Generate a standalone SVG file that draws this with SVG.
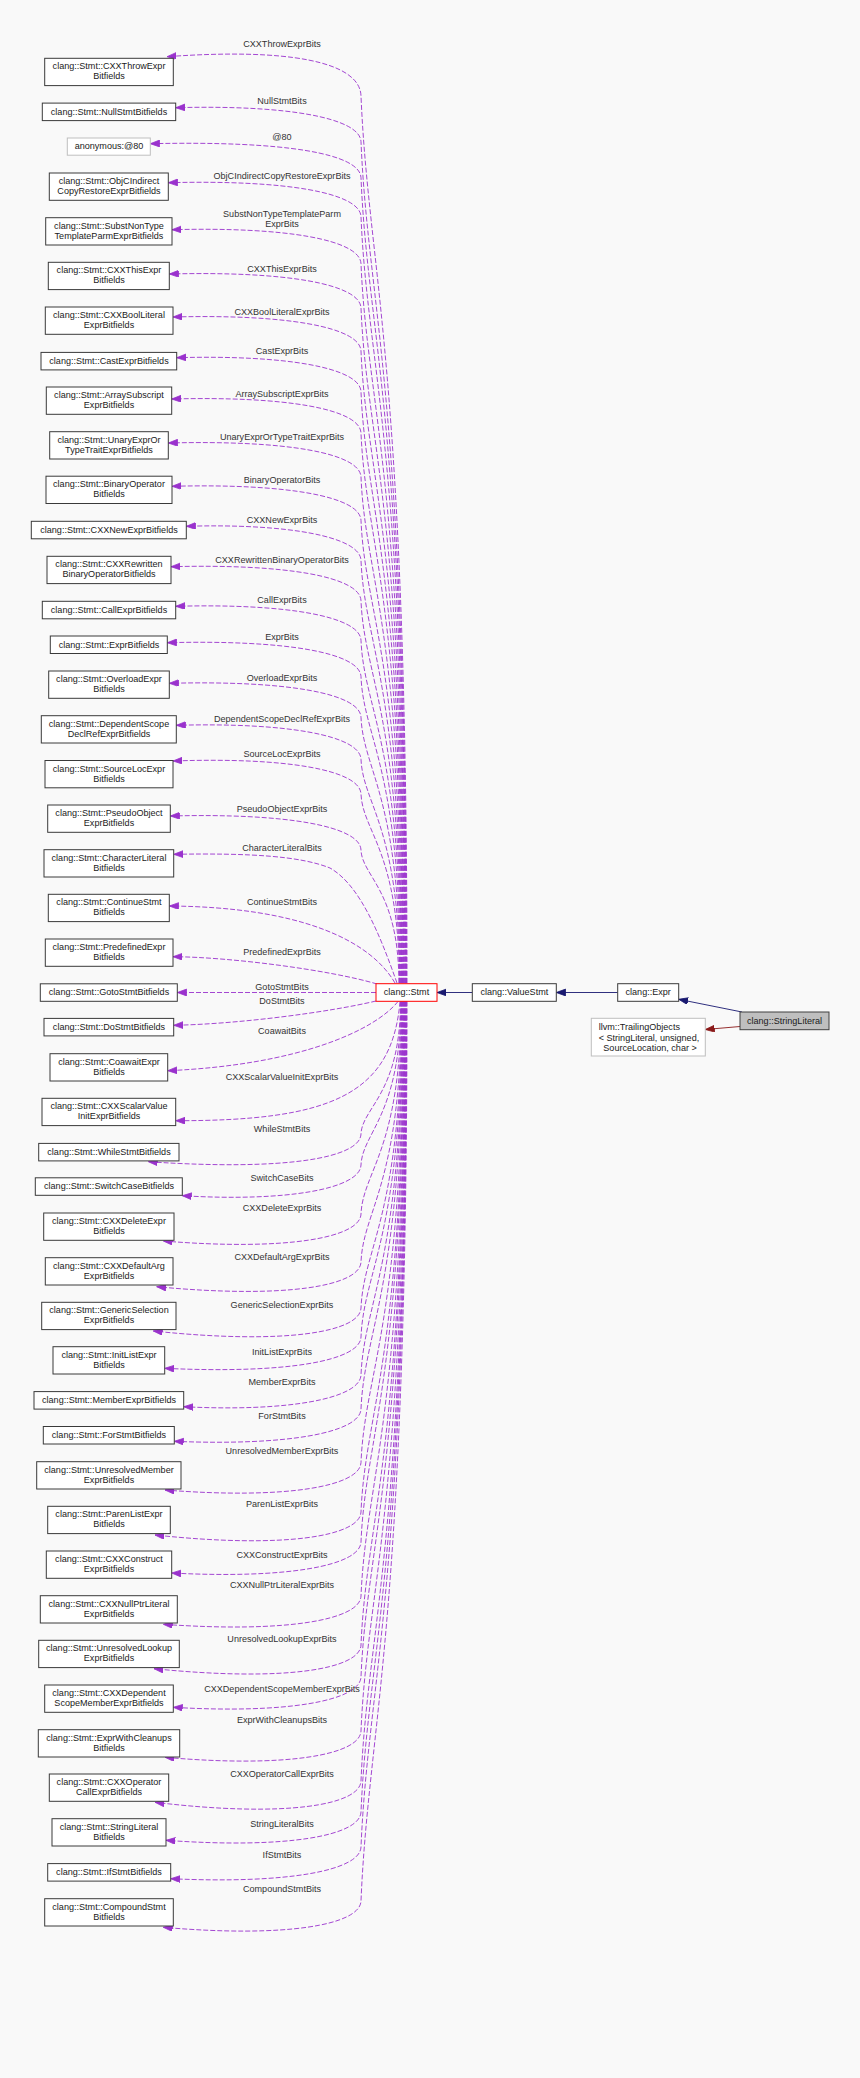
<svg xmlns="http://www.w3.org/2000/svg" width="860" height="2078" viewBox="0 0 860 2078">
<style>
text{font-family:"Liberation Sans",Arial,Helvetica,sans-serif;font-size:9.07px;fill:#1a1a1a}
.n rect{fill:#ffffff;stroke:#3a3a3a;stroke-width:1}
.n text{text-anchor:middle}
.gr rect{stroke:#bfbfbf}
.e path{fill:none;stroke:#9a32cd;stroke-width:0.9;stroke-dasharray:5,2;marker-end:url(#mp)}
.e text{text-anchor:middle;fill:#333333}
.inh{fill:none;stroke:#191970;stroke-width:0.9;marker-end:url(#mn)}
</style>
<defs>
<marker id="mp" markerUnits="userSpaceOnUse" markerWidth="12" markerHeight="9" refX="9.3" refY="3.4" orient="auto"><path d="M0,0 L9.3,3.4 L0,6.8 z" fill="#9a32cd" stroke="#9a32cd" stroke-width="0.8"/></marker>
<marker id="mn" markerUnits="userSpaceOnUse" markerWidth="12" markerHeight="9" refX="9.3" refY="3.4" orient="auto"><path d="M0,0 L9.3,3.4 L0,6.8 z" fill="#191970" stroke="#191970" stroke-width="0.8"/></marker>
<marker id="mr" markerUnits="userSpaceOnUse" markerWidth="12" markerHeight="9" refX="9.3" refY="3.4" orient="auto"><path d="M0,0 L9.3,3.4 L0,6.8 z" fill="#8b1a1a" stroke="#8b1a1a" stroke-width="0.8"/></marker>
</defs>
<rect x="0" y="0" width="860" height="2078" fill="#f9f9f9"/>

<g id="connectors">
<g class="e">
<path d="M407,983 C407,362 368.5,273 361,96 C360,61 286,48 167,56.7"/><text x="282" y="47.2">CXXThrowExprBits</text>
<path d="M406.5,983 C406.5,394 368.2,310 361,141.7 C360,117.7 286,104.7 175.7,107.7"/><text x="282" y="103.9">NullStmtBits</text>
<path d="M406.1,983 C406.1,419.3 367.8,338.8 361,177.7 C360,153.7 286,140.7 150.3,143.7"/><text x="282" y="139.9">@80</text>
<path d="M405.6,983 C405.6,446.6 367.5,370 361,216.7 C360,192.7 286,179.7 168.3,182.7"/><text x="282" y="178.9">ObjCIndirectCopyRestoreExprBits</text>
<path d="M405.2,983 C405.2,479.5 367.1,407.6 361,263.7 C360,239.7 286,226.7 172,229.7"/><text x="282" y="216.9">SubstNonTypeTemplateParm</text><text x="282" y="227.2">ExprBits</text>
<path d="M404.8,983 C404.8,510.5 366.7,443 361,308 C360,284 286,271 169.3,274"/><text x="282" y="271.5">CXXThisExprBits</text>
<path d="M404.3,983 C404.3,540.6 366.4,477.4 361,351 C360,327 286,314 173,317"/><text x="282" y="314.5">CXXBoolLiteralExprBits</text>
<path d="M403.8,983 C403.8,569.1 366,510 361,391.7 C360,367.7 286,354.7 176.7,357.7"/><text x="282" y="353.9">CastExprBits</text>
<path d="M403.4,983 C403.4,598 365.7,543 361,433 C360,409 286,396 171.7,399"/><text x="282" y="396.5">ArraySubscriptExprBits</text>
<path d="M403,983 C403,628.8 365.3,578.2 361,477 C360,453 286,440 168.3,443"/><text x="282" y="440.2">UnaryExprOrTypeTraitExprBits</text>
<path d="M402.5,983 C402.5,659.1 364.9,612.8 361,520.3 C360,496.3 286,483.3 172,486.3"/><text x="282" y="482.5">BinaryOperatorBits</text>
<path d="M402,983 C402,687.1 364.6,644.8 361,560.3 C360,536.3 286,523.3 186.3,526.3"/><text x="282" y="522.9">CXXNewExprBits</text>
<path d="M401.6,983 C401.6,715.4 364.2,677.2 361,600.7 C360,576.7 286,563.7 171,566.7"/><text x="282" y="562.9">CXXRewrittenBinaryOperatorBits</text>
<path d="M401.2,983 C401.2,743.1 363.9,708.8 361,640.3 C360,616.3 286,603.3 175.7,606.3"/><text x="282" y="602.9">CallExprBits</text>
<path d="M400.7,983 C400.7,768.6 363.6,738 361,676.7 C360,652.7 286,639.7 167.3,642.7"/><text x="282" y="639.5">ExprBits</text>
<path d="M400.2,983 C400.2,797 363.3,770.4 361,717.3 C360,693.3 286,680.3 169.3,683.3"/><text x="282" y="680.9">OverloadExprBits</text>
<path d="M399.8,983 C399.8,826.4 362.9,804 361,759.3 C360,735.3 286,722.3 176.3,725.3"/><text x="282" y="722.2">DependentScopeDeclRefExprBits</text>
<path d="M399.4,983 C399.4,850.7 362.6,831.8 361,794 C360,770 286,757 173,761"/><text x="282" y="756.9">SourceLocExprBits</text>
<path d="M398.9,983 C398.9,889.9 362.1,876.6 361,850 C360,826 286,813 170.3,816"/><text x="282" y="812.2">PseudoObjectExprBits</text>
<path d="M397,983 C380,935 360,885 330,868 C300,856 250,853 173.7,854.3"/><text x="282" y="850.9">CharacterLiteralBits</text>
<path d="M395,983 C370,940 300,907 169.3,906"/><text x="282" y="904.9">ContinueStmtBits</text>
<path d="M377,984 C330,970 230,957 173,956.7"/><text x="282" y="954.9">PredefinedExprBits</text>
<path d="M376,992.5 L177.3,992.5"/><text x="282" y="989.9">GotoStmtBits</text>
<path d="M376,1001 C330,1012 240,1024 173.7,1025.3"/><text x="282" y="1003.5">DoStmtBits</text>
<path d="M398,1001.5 C375,1030 300,1065 167.7,1070.7"/><text x="282" y="1034.2">CoawaitBits</text>
<path d="M400,1001.5 C392,1095 330,1121 175.7,1120.7"/><text x="282" y="1079.9">CXXScalarValueInitExprBits</text>
<path d="M400.5,1001.3 C400.5,1094.2 362.1,1107.5 361,1134 C360,1158 286,1171 148.3,1161.7"/><text x="282" y="1131.9">WhileStmtBits</text>
<path d="M400.9,1001.3 C400.9,1115.9 362.4,1132.3 361,1165 C360,1189 286,1202 182.3,1195.7"/><text x="282" y="1180.9">SwitchCaseBits</text>
<path d="M401.2,1001.3 C401.2,1150.2 362.8,1171.5 361,1214 C360,1238 286,1251 163.3,1241"/><text x="282" y="1210.5">CXXDeleteExprBits</text>
<path d="M401.6,1001.3 C401.6,1183.8 363.2,1209.9 361,1262 C360,1286 286,1299 156.7,1286.7"/><text x="282" y="1259.9">CXXDefaultArgExprBits</text>
<path d="M401.9,1001.3 C401.9,1216 363.6,1246.7 361,1308 C360,1332 286,1345 153.3,1331"/><text x="282" y="1307.5">GenericSelectionExprBits</text>
<path d="M402.3,1001.3 C402.3,1236.3 363.9,1269.9 361,1337 C360,1361 286,1374 164.7,1368.3"/><text x="282" y="1355.2">InitListExprBits</text>
<path d="M402.7,1001.3 C402.7,1262.9 364.2,1300.3 361,1375 C360,1399 286,1412 183.7,1406.7"/><text x="282" y="1385.2">MemberExprBits</text>
<path d="M403,1001.3 C403,1286.7 364.5,1327.5 361,1409 C360,1433 286,1446 174.3,1441.3"/><text x="282" y="1418.5">ForStmtBits</text>
<path d="M403.4,1001.3 C403.4,1324.1 364.9,1370.3 361,1462.5 C360,1486.5 286,1499.5 165,1490"/><text x="282" y="1453.9">UnresolvedMemberExprBits</text>
<path d="M403.7,1001.3 C403.7,1358.8 365.3,1409.9 361,1512 C360,1536 286,1549 155,1535"/><text x="282" y="1506.9">ParenListExprBits</text>
<path d="M404.1,1001.3 C404.1,1379.8 365.6,1433.9 361,1542 C360,1566 286,1579 171.7,1573"/><text x="282" y="1557.5">CXXConstructExprBits</text>
<path d="M404.5,1001.3 C404.5,1417.6 366.1,1477.1 361,1596 C360,1620 286,1633 163.3,1624.3"/><text x="282" y="1588.2">CXXNullPtrLiteralExprBits</text>
<path d="M404.8,1001.3 C404.8,1451.9 366.5,1516.3 361,1645 C360,1669 286,1682 154,1668.7"/><text x="282" y="1642.2">UnresolvedLookupExprBits</text>
<path d="M405.2,1001.3 C405.2,1474.3 366.7,1541.9 361,1677 C360,1701 286,1714 173.3,1707.3"/><text x="282" y="1692.2">CXXDependentScopeMemberExprBits</text>
<path d="M405.5,1001.3 C405.5,1512.1 367.2,1585.1 361,1731 C360,1755 286,1768 165,1757.3"/><text x="282" y="1722.9">ExprWithCleanupsBits</text>
<path d="M405.9,1001.3 C405.9,1547.1 367.6,1625.1 361,1781 C360,1805 286,1818 155,1802.3"/><text x="282" y="1776.5">CXXOperatorCallExprBits</text>
<path d="M406.3,1001.3 C406.3,1568.8 367.9,1649.9 361,1812 C360,1836 286,1849 166,1840.3"/><text x="282" y="1826.5">StringLiteralBits</text>
<path d="M406.6,1001.3 C406.6,1593.3 368.2,1677.9 361,1847 C360,1871 286,1884 170.7,1878.7"/><text x="282" y="1857.9">IfStmtBits</text>
<path d="M407,1001.3 C407,1631.1 368.6,1721.1 361,1901 C360,1925 286,1938 163.3,1927.3"/><text x="282" y="1892.2">CompoundStmtBits</text>
</g>
<path class="inh" d="M472.3,992.5 L437,992.5"/>
<path class="inh" d="M617.7,992.5 L556.3,992.5"/>
<path class="inh" d="M742,1012 L678.7,999.3"/>
<path d="M740,1026.5 L705.3,1029.5" fill="none" stroke="#8b1a1a" stroke-width="0.9" marker-end="url(#mr)"/>
</g>

<g id="n_cxxthrow" class="n"><rect x="44.7" y="58.3" width="128.6" height="27.3"/><text x="109" y="69.3">clang::Stmt::CXXThrowExpr</text><text x="109" y="79.4">Bitfields</text></g>
<g id="n_nullstmt" class="n"><rect x="42.3" y="103.1" width="133.4" height="17.5"/><text x="109" y="114.7">clang::Stmt::NullStmtBitfields</text></g>
<g id="n_anon80" class="n gr"><rect x="67.3" y="138" width="83" height="17.2"/><text x="109" y="149.4">anonymous:@80</text></g>
<g id="n_objcindirect" class="n"><rect x="49.3" y="173" width="119" height="27.3"/><text x="109" y="184">clang::Stmt::ObjCIndirect</text><text x="109" y="194.1">CopyRestoreExprBitfields</text></g>
<g id="n_substnontype" class="n"><rect x="45.7" y="217.7" width="126.3" height="27.3"/><text x="109" y="228.7">clang::Stmt::SubstNonType</text><text x="109" y="238.8">TemplateParmExprBitfields</text></g>
<g id="n_cxxthis" class="n"><rect x="48.3" y="262.3" width="121" height="27.3"/><text x="109" y="273.3">clang::Stmt::CXXThisExpr</text><text x="109" y="283.4">Bitfields</text></g>
<g id="n_cxxbool" class="n"><rect x="45.3" y="307" width="127.7" height="27.3"/><text x="109" y="318">clang::Stmt::CXXBoolLiteral</text><text x="109" y="328.1">ExprBitfields</text></g>
<g id="n_castexpr" class="n"><rect x="41" y="352.4" width="135.7" height="17.5"/><text x="109" y="364">clang::Stmt::CastExprBitfields</text></g>
<g id="n_arraysubscript" class="n"><rect x="46.3" y="387" width="125.4" height="27.3"/><text x="109" y="398">clang::Stmt::ArraySubscript</text><text x="109" y="408.1">ExprBitfields</text></g>
<g id="n_unaryexpror" class="n"><rect x="49.7" y="431.7" width="118.6" height="27.3"/><text x="109" y="442.7">clang::Stmt::UnaryExprOr</text><text x="109" y="452.8">TypeTraitExprBitfields</text></g>
<g id="n_binaryoperator" class="n"><rect x="46" y="476.2" width="126" height="27.3"/><text x="109" y="487.2">clang::Stmt::BinaryOperator</text><text x="109" y="497.3">Bitfields</text></g>
<g id="n_cxxnew" class="n"><rect x="31.3" y="521.3" width="155" height="17.5"/><text x="109" y="532.9">clang::Stmt::CXXNewExprBitfields</text></g>
<g id="n_cxxrewritten" class="n"><rect x="47" y="556.3" width="124" height="27.3"/><text x="109" y="567.3">clang::Stmt::CXXRewritten</text><text x="109" y="577.4">BinaryOperatorBitfields</text></g>
<g id="n_callexpr" class="n"><rect x="42.3" y="601.3" width="133.4" height="17.5"/><text x="109" y="612.9">clang::Stmt::CallExprBitfields</text></g>
<g id="n_exprbf" class="n"><rect x="50.3" y="636" width="117" height="17.5"/><text x="109" y="647.6">clang::Stmt::ExprBitfields</text></g>
<g id="n_overloadexpr" class="n"><rect x="48.7" y="671" width="120.6" height="27.3"/><text x="109" y="682">clang::Stmt::OverloadExpr</text><text x="109" y="692.1">Bitfields</text></g>
<g id="n_dependentscope" class="n"><rect x="41.3" y="715.7" width="135" height="27.3"/><text x="109" y="726.7">clang::Stmt::DependentScope</text><text x="109" y="736.8">DeclRefExprBitfields</text></g>
<g id="n_sourceloc" class="n"><rect x="45" y="760.5" width="128" height="27.3"/><text x="109" y="771.5">clang::Stmt::SourceLocExpr</text><text x="109" y="781.6">Bitfields</text></g>
<g id="n_pseudoobject" class="n"><rect x="47.7" y="805" width="122.6" height="27.3"/><text x="109" y="816">clang::Stmt::PseudoObject</text><text x="109" y="826.1">ExprBitfields</text></g>
<g id="n_characterliteral" class="n"><rect x="44" y="849.7" width="129.7" height="27.3"/><text x="109" y="860.7">clang::Stmt::CharacterLiteral</text><text x="109" y="870.8">Bitfields</text></g>
<g id="n_continuestmt" class="n"><rect x="48.3" y="894.3" width="121" height="27.3"/><text x="109" y="905.3">clang::Stmt::ContinueStmt</text><text x="109" y="915.4">Bitfields</text></g>
<g id="n_predefined" class="n"><rect x="45.3" y="939" width="127.7" height="27.3"/><text x="109" y="950">clang::Stmt::PredefinedExpr</text><text x="109" y="960.1">Bitfields</text></g>
<g id="n_gotostmt" class="n"><rect x="40.3" y="983.8" width="137" height="17.5"/><text x="109" y="995.4">clang::Stmt::GotoStmtBitfields</text></g>
<g id="n_dostmt" class="n"><rect x="44" y="1018.4" width="129.7" height="17.5"/><text x="109" y="1030">clang::Stmt::DoStmtBitfields</text></g>
<g id="n_coawait" class="n"><rect x="50" y="1053.7" width="117.7" height="27.3"/><text x="109" y="1064.7">clang::Stmt::CoawaitExpr</text><text x="109" y="1074.8">Bitfields</text></g>
<g id="n_cxxscalarvalue" class="n"><rect x="42" y="1098.3" width="133.7" height="27.3"/><text x="109" y="1109.3">clang::Stmt::CXXScalarValue</text><text x="109" y="1119.4">InitExprBitfields</text></g>
<g id="n_whilestmt" class="n"><rect x="38.7" y="1143.4" width="140.3" height="17.5"/><text x="109" y="1155">clang::Stmt::WhileStmtBitfields</text></g>
<g id="n_switchcase" class="n"><rect x="35.3" y="1177.8" width="147" height="17.5"/><text x="109" y="1189.4">clang::Stmt::SwitchCaseBitfields</text></g>
<g id="n_cxxdelete" class="n"><rect x="43.7" y="1213" width="130.3" height="27.3"/><text x="109" y="1224">clang::Stmt::CXXDeleteExpr</text><text x="109" y="1234.1">Bitfields</text></g>
<g id="n_cxxdefaultarg" class="n"><rect x="45.3" y="1257.7" width="127.7" height="27.3"/><text x="109" y="1268.7">clang::Stmt::CXXDefaultArg</text><text x="109" y="1278.8">ExprBitfields</text></g>
<g id="n_genericselection" class="n"><rect x="41.7" y="1302.3" width="134.3" height="27.3"/><text x="109" y="1313.3">clang::Stmt::GenericSelection</text><text x="109" y="1323.4">ExprBitfields</text></g>
<g id="n_initlist" class="n"><rect x="53" y="1346.7" width="111.7" height="27.3"/><text x="109" y="1357.7">clang::Stmt::InitListExpr</text><text x="109" y="1367.8">Bitfields</text></g>
<g id="n_memberexpr" class="n"><rect x="34" y="1391.6" width="149.7" height="17.5"/><text x="109" y="1403.2">clang::Stmt::MemberExprBitfields</text></g>
<g id="n_forstmt" class="n"><rect x="43.3" y="1426.5" width="131" height="17.5"/><text x="109" y="1438.1">clang::Stmt::ForStmtBitfields</text></g>
<g id="n_unresolvedmember" class="n"><rect x="36.7" y="1461.7" width="144.3" height="27.3"/><text x="109" y="1472.7">clang::Stmt::UnresolvedMember</text><text x="109" y="1482.8">ExprBitfields</text></g>
<g id="n_parenlist" class="n"><rect x="47.7" y="1506.3" width="122.6" height="27.3"/><text x="109" y="1517.3">clang::Stmt::ParenListExpr</text><text x="109" y="1527.4">Bitfields</text></g>
<g id="n_cxxconstruct" class="n"><rect x="46.3" y="1551" width="125.4" height="27.3"/><text x="109" y="1562">clang::Stmt::CXXConstruct</text><text x="109" y="1572.1">ExprBitfields</text></g>
<g id="n_cxxnullptr" class="n"><rect x="40.3" y="1595.7" width="137" height="27.3"/><text x="109" y="1606.7">clang::Stmt::CXXNullPtrLiteral</text><text x="109" y="1616.8">ExprBitfields</text></g>
<g id="n_unresolvedlookup" class="n"><rect x="38.7" y="1640.3" width="140.6" height="27.3"/><text x="109" y="1651.3">clang::Stmt::UnresolvedLookup</text><text x="109" y="1661.4">ExprBitfields</text></g>
<g id="n_cxxdependent" class="n"><rect x="44.7" y="1685" width="128.6" height="27.3"/><text x="109" y="1696">clang::Stmt::CXXDependent</text><text x="109" y="1706.1">ScopeMemberExprBitfields</text></g>
<g id="n_exprwithcleanups" class="n"><rect x="38.3" y="1729.7" width="141.4" height="27.3"/><text x="109" y="1740.7">clang::Stmt::ExprWithCleanups</text><text x="109" y="1750.8">Bitfields</text></g>
<g id="n_cxxoperator" class="n"><rect x="49.3" y="1774" width="119.4" height="27.3"/><text x="109" y="1785">clang::Stmt::CXXOperator</text><text x="109" y="1795.1">CallExprBitfields</text></g>
<g id="n_stringliteralbf" class="n"><rect x="52" y="1818.7" width="114" height="27.3"/><text x="109" y="1829.7">clang::Stmt::StringLiteral</text><text x="109" y="1839.8">Bitfields</text></g>
<g id="n_ifstmt" class="n"><rect x="47.7" y="1863.6" width="123" height="17.5"/><text x="109" y="1875.2">clang::Stmt::IfStmtBitfields</text></g>
<g id="n_compoundstmt" class="n"><rect x="44.7" y="1898.7" width="128.6" height="27.3"/><text x="109" y="1909.7">clang::Stmt::CompoundStmt</text><text x="109" y="1919.8">Bitfields</text></g>

<g id="n_stmt" class="n"><rect x="376" y="983.7" width="61" height="17.6" style="stroke:#ff0000"/><text x="406.5" y="995.3">clang::Stmt</text></g>
<g id="n_valuestmt" class="n"><rect x="472.3" y="983.7" width="84" height="17.6"/><text x="514.3" y="995.3">clang::ValueStmt</text></g>
<g id="n_expr" class="n"><rect x="617.7" y="983.7" width="61" height="17.6"/><text x="648.2" y="995.3">clang::Expr</text></g>
<g id="n_stringliteral" class="n"><rect x="740" y="1012" width="89" height="17.7" style="fill:#bfbfbf;stroke:#404040"/><text x="784.5" y="1023.7">clang::StringLiteral</text></g>
<g id="n_trailingobjects" class="n gr"><rect x="591.3" y="1018.3" width="114" height="37.7"/><text x="598.7" y="1029.9" style="text-anchor:start">llvm::TrailingObjects</text><text x="598.7" y="1040.9" style="text-anchor:start">&lt; StringLiteral, unsigned,</text><text x="603.3" y="1050.9" style="text-anchor:start">SourceLocation, char &gt;</text></g>
</svg>
